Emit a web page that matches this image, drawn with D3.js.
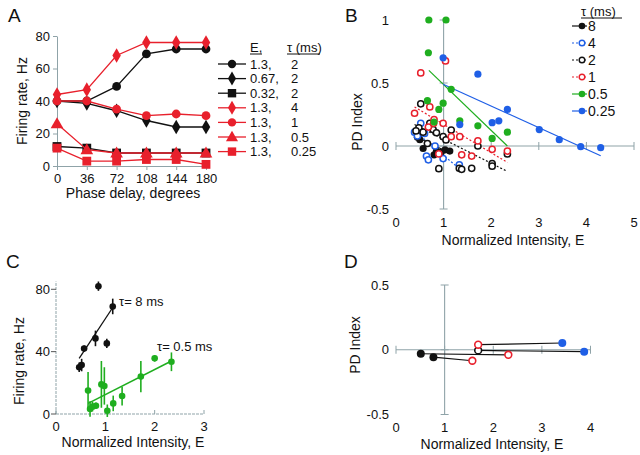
<!DOCTYPE html>
<html><head><meta charset="utf-8">
<script src="https://cdn.jsdelivr.net/npm/d3@7"></script>
<style>
body{margin:0;background:#fff;}
svg text{font-family:"Liberation Sans",Arial,Helvetica,sans-serif;fill:#111;}
</style></head>
<body><svg id="c" width="640" height="455"></svg>
<script>
// ---------- Panel A data ----------
const aPhase = [0, 36, 72, 108, 144, 180];
const aE   = ["1.3", "0.67", "0.32", "1.3", "1.3", "1.3", "1.3"];
const aTau = ["2", "2", "2", "4", "1", "0.5", "0.25"];
const aValues = [
  [40, 40, 49, 69, 72, 72],
  [40, 38.5, 34, 28, 24, 24],
  [12, 11, 8, 8, 8, 8],
  [44, 47, 68, 76, 76, 76],
  [40, 40, 35, 31, 32, 31],
  [26, 10, 8, 8, 8, 8],
  [11, 3, 3, 4, 4, 1]
];
const aYTicks = [0, 20, 40, 60, 80];

// ---------- Panel B data (x = E, y = PD index) ----------
const bTauLabels = ["8", "4", "2", "1", "0.5", "0.25"];
const bTau8 = [[0.45,0.07],[0.5,0.05],[0.57,-0.02],[0.8,-0.07],[0.85,-0.04],[0.95,-0.05],[1.03,-0.03],[1.13,-0.04]];
const bTau4 = [[0.52,0.18],[0.39,0.11],[0.45,0.08],[0.64,-0.08],[0.68,-0.11],[0.82,0.0],[0.99,-0.1],[1.33,-0.15],[0.6,0.1]];
const bTau2 = [[0.52,0.335],[0.71,0.18],[0.48,0.145],[0.57,0.11],[0.78,0.13],[0.85,0.105],[0.66,0.02],[0.99,0.074],[1.05,0.048],
  [1.16,0.127],[1.72,0.0],[0.9,-0.18],[1.33,-0.177],[1.38,-0.185],[1.59,-0.177],[2.02,-0.14],[2.02,-0.16],[2.34,-0.063],[0.42,0.12]];
const bTau1 = [[0.52,0.58],[1.04,0.675],[0.39,0.26],[0.71,0.31],[0.8,0.21],[0.99,0.18],[0.68,0.15],[0.79,0.18],[1.16,0.074],
  [1.34,0.074],[1.72,0.04],[2.02,-0.026],[2.34,-0.04],[1.38,-0.07],[1.59,-0.08],[0.9,-0.063]];
const bTau05 = [[0.69,1.0],[1.05,1.0],[0.68,0.74],[1.16,0.45],[0.66,0.36],[0.99,0.34],[0.9,0.29],[0.8,0.19],[1.34,0.2],[1.72,0.16],[2.02,0.06],[2.34,0.11]];
const bTau025 = [[0.99,0.7],[1.72,0.57],[2.34,0.29],[2.02,0.185],[2.16,0.2],[1.34,0.17],[3.01,0.13],[3.43,0.05],[3.88,-0.005],[4.3,-0.013]];
const bFits = [ // [x1,y1,x2,y2]
  [0.45,0.07,1.15,-0.06],
  [0.45,0.1,1.3,-0.17],
  [0.39,0.17,2.33,-0.2],
  [0.39,0.31,2.34,-0.13],
  [0.69,0.6,2.34,0.0],
  [0.99,0.49,4.3,-0.077]
];
const bXTicks = [0, 1, 2, 3, 4, 5];
const bYTicks = [-0.5, 0, 0.5, 1];

// ---------- Panel C data ----------
const cTau8 = [[0.47,30],[0.52,31.4],[0.57,42],[0.8,48.5],[0.86,82],[1.03,45.3],[1.15,69]];
const cTau8Err = [3, 4, 2, 5, 3, 3, 5];
const cTau05 = [[0.65,15],[0.69,3.2],[0.74,4.7],[0.81,5.3],[0.92,19],[0.98,18],[1.04,2.1],[1.16,6.8],[1.34,11.5],[1.72,24],[2.0,35.7],[2.34,33.5]];
const cTau05Err = [12, 5, 3, 2, 15, 12, 4, 5, 6, 10, 2, 6];
const cFit8 = [0.47, 35.7, 1.16, 68.8];
const cFit05 = [0.65, 6.8, 2.34, 34];
const cXTicks = [0, 1, 2, 3];
const cYTicks = [0, 40, 80];

// ---------- Panel D data ----------
const dPairs = [ // [x1,y1,type1,x2,y2,type2]
  [0.51,-0.031,"blackFilled",2.31,-0.039,"redOpen"],
  [0.77,-0.057,"blackFilled",1.57,-0.085,"redOpen"],
  [1.69,-0.005,"blackOpen",3.87,-0.015,"blueFilled"],
  [1.69,0.039,"redOpen",3.42,0.052,"blueFilled"]
];
const dXTicks = [0, 1, 2, 3, 4];
const dYTicks = [-0.5, 0, 0.5];

// ---------- drawing ----------
const RED = "#e8202c", GREEN = "#1fae1f", BLUE = "#1f5fe6", BLACK = "#111", AX = "#8fa3a8";
const svg = d3.select("#c");

function panelLabel(t, x, y){ svg.append("text").attr("x",x).attr("y",y).attr("font-size",19).text(t); }
function rotTitle(t, x, y){ svg.append("text").attr("transform",`translate(${x},${y}) rotate(-90)`).attr("text-anchor","middle").attr("font-size",14).text(t); }
function hTitle(t, x, y){ svg.append("text").attr("x",x).attr("y",y).attr("text-anchor","middle").attr("font-size",14).text(t); }

function marker(g, type, x, y, color, s){
  s = s || 4.5;
  if(type==="circle") g.append("circle").attr("cx",x).attr("cy",y).attr("r",s).attr("fill",color);
  else if(type==="diamond") g.append("path").attr("d",d3.symbol(d3.symbolDiamond, s*s*3.2)()).attr("transform",`translate(${x},${y})`).attr("fill",color);
  else if(type==="square") g.append("rect").attr("x",x-s).attr("y",y-s).attr("width",2*s).attr("height",2*s).attr("fill",color);
  else if(type==="triangle") g.append("path").attr("d",d3.symbol(d3.symbolTriangle, s*s*3.6)()).attr("transform",`translate(${x},${y+0.8})`).attr("fill",color);
}

// ===== Panel A =====
(function(){
  const x = d3.scaleLinear().domain([0,180]).range([57,206]);
  const y = d3.scaleLinear().domain([0,80]).range([166,36]);
  const g = svg.append("g");
  const xa = g.append("g").attr("transform",`translate(0,${y(0)})`)
    .call(d3.axisBottom(x).tickValues(aPhase).tickSize(4).tickSizeOuter(0).tickPadding(4));
  const ya = g.append("g").attr("transform",`translate(${x(0)},0)`)
    .call(d3.axisLeft(y).tickValues(aYTicks).tickSize(4).tickSizeOuter(0).tickPadding(3));
  [xa,ya].forEach(a=>{ a.selectAll("path,line").attr("stroke",AX); a.selectAll("text").attr("font-size",13).attr("fill","#111").attr("font-family","Liberation Sans, Arial, sans-serif"); });
  const styles = [
    [BLACK,"circle"],[BLACK,"diamond"],[BLACK,"square"],
    [RED,"diamond"],[RED,"circle"],[RED,"triangle"],[RED,"square"]
  ];
  const line = d3.line().x((d,i)=>x(aPhase[i])).y(d=>y(d));
  aValues.forEach((vals,k)=>{
    const [c,t] = styles[k];
    g.append("path").attr("d",line(vals)).attr("fill","none").attr("stroke",c).attr("stroke-width",1.3);
    vals.forEach((v,i)=>marker(g,t,x(aPhase[i]),y(v),c,4.4));
  });
  // legend
  const lg = svg.append("g");
  lg.append("text").attr("x",250).attr("y",51.5).attr("font-size",13).text("E,");
  lg.append("text").attr("x",287).attr("y",51.5).attr("font-size",13).text("τ (ms)");
  lg.append("line").attr("x1",250).attr("x2",262).attr("y1",54).attr("y2",54).attr("stroke","#111");
  lg.append("line").attr("x1",287).attr("x2",320).attr("y1",54).attr("y2",54).attr("stroke","#111");
  aE.forEach((e,k)=>{
    const yy = 64 + k*14.6;
    const [c,t] = styles[k];
    lg.append("line").attr("x1",218).attr("x2",246).attr("y1",yy).attr("y2",yy).attr("stroke",c).attr("stroke-width",1.3);
    marker(lg,t,232,yy,c,4.2);
    lg.append("text").attr("x",250).attr("y",yy+4.5).attr("font-size",13).text(e+",");
    lg.append("text").attr("x",291).attr("y",yy+4.5).attr("font-size",13).text(aTau[k]);
  });
  panelLabel("A",8,22);
  rotTitle("Firing rate, Hz",27,101);
  hTitle("Phase delay, degrees",133,198);
})();

// cross axes helper for B and D
function crossAxes(g, x, y, xt, yt, xLabY, yLabX){
  g.append("line").attr("x1",x(xt[0])).attr("x2",x(xt[xt.length-1])).attr("y1",y(0)).attr("y2",y(0)).attr("stroke",AX).attr("stroke-width",1.1);
  xt.forEach(v=>g.append("line").attr("x1",x(v)).attr("x2",x(v)).attr("y1",y(0)-4).attr("y2",y(0)+4).attr("stroke",AX));
  g.append("line").attr("x1",x(1)).attr("x2",x(1)).attr("y1",y(yt[yt.length-1])).attr("y2",y(yt[0])).attr("stroke",AX).attr("stroke-width",1.1);
  yt.forEach(v=>g.append("line").attr("x1",x(1)-4).attr("x2",x(1)+4).attr("y1",y(v)).attr("y2",y(v)).attr("stroke",AX));
  xt.forEach(v=>g.append("text").attr("x",x(v)).attr("y",xLabY).attr("text-anchor","middle").attr("font-size",13).text(v));
  yt.forEach(v=>g.append("text").attr("x",yLabX).attr("y",y(v)+4.5).attr("text-anchor","end").attr("font-size",13).text(v));
}

// ===== Panel B =====
(function(){
  const x = d3.scaleLinear().domain([0,5]).range([396,634]);
  const y = d3.scaleLinear().domain([-0.5,1]).range([209,20]);
  const g = svg.append("g");
  crossAxes(g,x,y,bXTicks,bYTicks,227,389);
  const sets = [
    [bTau8,BLACK,true,null],
    [bTau4,BLUE,false,"2,2"],
    [bTau2,BLACK,false,"2,2"],
    [bTau1,RED,false,"2,2"],
    [bTau05,GREEN,true,null],
    [bTau025,BLUE,true,null]
  ];
  sets.forEach((s,k)=>{
    const f = bFits[k];
    g.append("line").attr("x1",x(f[0])).attr("y1",y(f[1])).attr("x2",x(f[2])).attr("y2",y(f[3]))
      .attr("stroke",s[1]).attr("stroke-width",1.2).attr("stroke-dasharray",s[3]);
  });
  sets.forEach(s=>{
    s[0].forEach(p=>{
      const c = g.append("circle").attr("cx",x(p[0])).attr("cy",y(p[1]));
      if(s[2]) c.attr("r",3.6).attr("fill",s[1]);
      else c.attr("r",3.1).attr("fill","#fff").attr("stroke",s[1]).attr("stroke-width",1.5);
    });
  });
  // legend
  const lg = svg.append("g");
  lg.append("text").attr("x",581).attr("y",16).attr("font-size",13).text("τ (ms)");
  lg.append("line").attr("x1",581).attr("x2",622).attr("y1",18).attr("y2",18).attr("stroke","#111");
  sets.forEach((s,k)=>{
    const yy = 26 + k*17;
    lg.append("line").attr("x1",572).attr("x2",587).attr("y1",yy).attr("y2",yy).attr("stroke",s[1]).attr("stroke-width",1.2).attr("stroke-dasharray",s[3]);
    const c = lg.append("circle").attr("cx",582).attr("cy",yy);
    if(s[2]) c.attr("r",3.3).attr("fill",s[1]);
    else c.attr("r",2.8).attr("fill","#fff").attr("stroke",s[1]).attr("stroke-width",1.4);
    lg.append("text").attr("x",588).attr("y",yy+5).attr("font-size",14).text(bTauLabels[k]);
  });
  panelLabel("B",345,22);
  rotTitle("PD Index",362,122);
  hTitle("Normalized Intensity, E",513,245);
})();

// ===== Panel C =====
(function(){
  const x = d3.scaleLinear().domain([0,3]).range([56,204]);
  const y = d3.scaleLinear().domain([0,85]).range([414,281.5]);
  const g = svg.append("g");
  g.append("line").attr("x1",x(0)).attr("x2",x(3)).attr("y1",y(0)).attr("y2",y(0)).attr("stroke",AX).attr("stroke-dasharray","3,1");
  g.append("line").attr("x1",x(0)).attr("x2",x(0)).attr("y1",y(0)).attr("y2",y(85)).attr("stroke",AX).attr("stroke-dasharray","3,1");
  cXTicks.forEach(v=>{
    g.append("line").attr("x1",x(v)).attr("x2",x(v)).attr("y1",y(0)).attr("y2",y(0)-4).attr("stroke",AX);
    g.append("text").attr("x",x(v)).attr("y",y(0)+17).attr("text-anchor","middle").attr("font-size",13).text(v);
  });
  cYTicks.forEach(v=>{
    g.append("line").attr("x1",x(0)-5).attr("x2",x(0)).attr("y1",y(v)).attr("y2",y(v)).attr("stroke","#555");
    g.append("text").attr("x",x(0)-6).attr("y",y(v)+4.5).attr("text-anchor","end").attr("font-size",13).text(v);
  });
  g.append("line").attr("x1",x(cFit8[0])).attr("y1",y(cFit8[1])).attr("x2",x(cFit8[2])).attr("y2",y(cFit8[3])).attr("stroke",BLACK).attr("stroke-width",1.3);
  g.append("line").attr("x1",x(cFit05[0])).attr("y1",y(cFit05[1])).attr("x2",x(cFit05[2])).attr("y2",y(cFit05[3])).attr("stroke",GREEN).attr("stroke-width",1.5);
  function pts(data, err, color){
    data.forEach((p,i)=>{
      g.append("line").attr("x1",x(p[0])).attr("x2",x(p[0])).attr("y1",y(p[1]-err[i])).attr("y2",y(p[1]+err[i])).attr("stroke",color).attr("stroke-width",1.6);
      g.append("circle").attr("cx",x(p[0])).attr("cy",y(p[1])).attr("r",3.3).attr("fill",color);
    });
  }
  pts(cTau8,cTau8Err,BLACK);
  pts(cTau05,cTau05Err,GREEN);
  g.append("text").attr("x",119).attr("y",306).attr("font-size",13).text("τ= 8 ms");
  g.append("text").attr("x",157).attr("y",351).attr("font-size",13).text("τ= 0.5 ms");
  panelLabel("C",6,268);
  rotTitle("Firing rate, Hz",24,361);
  hTitle("Normalized Intensity, E",133,447);
})();

// ===== Panel D =====
(function(){
  const x = d3.scaleLinear().domain([0,4]).range([396,590.5]);
  const y = d3.scaleLinear().domain([-0.5,0.5]).range([414.5,285]);
  const g = svg.append("g");
  crossAxes(g,x,y,dXTicks,dYTicks,432,389);
  const st = {blackFilled:[BLACK,true], blackOpen:[BLACK,false], redOpen:[RED,false], blueFilled:[BLUE,true]};
  dPairs.forEach(p=>{
    g.append("line").attr("x1",x(p[0])).attr("y1",y(p[1])).attr("x2",x(p[3])).attr("y2",y(p[4])).attr("stroke",BLACK).attr("stroke-width",1.2);
  });
  dPairs.forEach(p=>{
    [[p[0],p[1],p[2]],[p[3],p[4],p[5]]].forEach(q=>{
      const s = st[q[2]];
      const c = g.append("circle").attr("cx",x(q[0])).attr("cy",y(q[1]));
      if(s[1]) c.attr("r",4).attr("fill",s[0]);
      else c.attr("r",3.4).attr("fill","#fff").attr("stroke",s[0]).attr("stroke-width",1.6);
    });
  });
  panelLabel("D",344,268);
  rotTitle("PD Index",360,345);
  hTitle("Normalized Intensity, E",492,449);
})();
</script></body></html>
